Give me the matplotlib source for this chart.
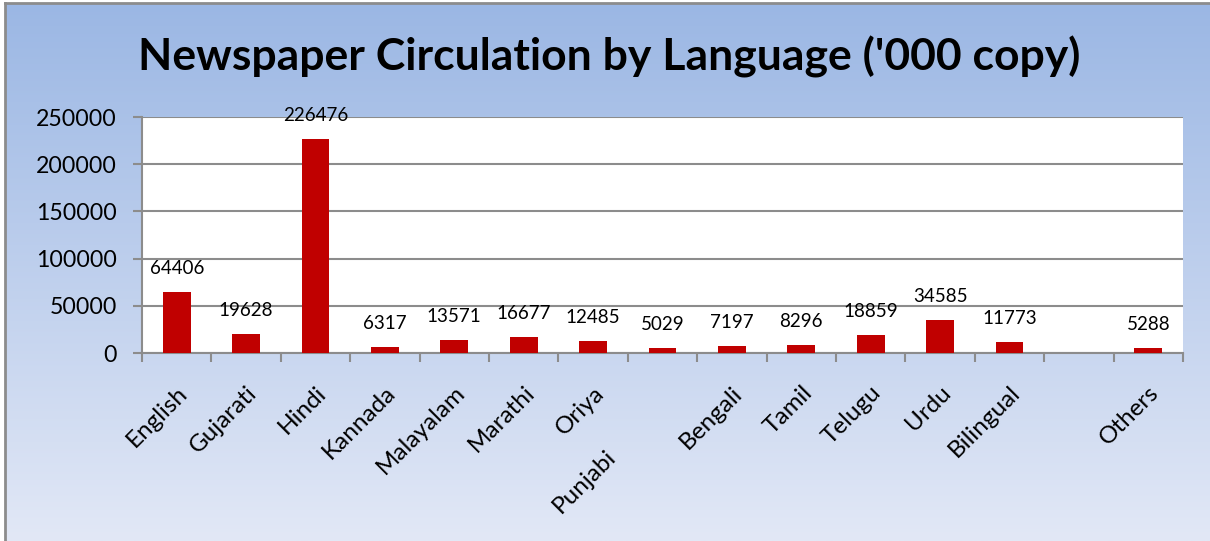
import matplotlib
matplotlib.use("Agg")
import matplotlib.pyplot as plt
import matplotlib.transforms as mtransforms
import numpy as np

# --- data ---
languages = ["English", "Gujarati", "Hindi", "Kannada", "Malayalam", "Marathi", "Oriya",
             "Punjabi", "Bengali", "Tamil", "Telugu", "Urdu", "Bilingual", "", "Others"]
circulation = [64406, 19628, 226476, 6317, 13571, 16677, 12485,
               5029, 7197, 8296, 18859, 34585, 11773, None, 5288]
yticks = [0, 50000, 100000, 150000, 200000, 250000]

plt.rcParams['font.family'] = ['Lato', 'DejaVu Sans']

fig = plt.figure(figsize=(12.10, 5.41), dpi=100)
fig.patch.set_facecolor('white')

# background gradient (Excel style chart area)
bg = fig.add_axes([5 / 1210, 0, 1 - 5 / 1210, 1 - 3 / 541], zorder=-10)
top_col = np.array([155, 183, 228]) / 255
bot_col = np.array([226, 232, 246]) / 255
t = np.linspace(0, 1, 256)[:, None]
grad = top_col * (1 - t) + bot_col * t
bg.imshow(grad[:, None, :].repeat(2, axis=1), aspect='auto', extent=[0, 1, 0, 1])
bg.set_axis_off()
# border at left/top
fig.add_artist(plt.Line2D([5 / 1210, 5 / 1210], [0, 1 - 3 / 541], color='#8c8c8c', lw=2))
fig.add_artist(plt.Line2D([5 / 1210, 1], [1 - 3 / 541, 1 - 3 / 541], color='#8c8c8c', lw=2))

ax = fig.add_axes([142 / 1210, 1 - 353 / 541, (1183 - 142) / 1210, (353 - 117) / 541])
ax.set_facecolor('white')

x = np.arange(len(languages))
vals = np.array([v if v is not None else 0 for v in circulation], dtype=float)
ax.bar(x, vals, width=0.4, color='#C00000', zorder=3)

for xi, v in zip(x, circulation):
    if v is None:
        continue
    ax.annotate(str(v), (xi, v), xytext=(0, 17), textcoords='offset points',
                ha='center', va='center', fontsize=13.5, color='black',
                annotation_clip=False, zorder=4)

ax.set_xlim(-0.5, len(languages) - 0.5)
ax.set_ylim(0, 250000)
ax.set_yticks(yticks)
ax.set_yticklabels([str(v) for v in yticks], fontsize=16.7)
ax.yaxis.grid(True, color='#8c8c8c', lw=1.5, zorder=0)
ax.set_axisbelow(True)

# category boundaries as ticks
ax.set_xticks(np.arange(len(languages) + 1) - 0.5)
ax.set_xticklabels([])
ax.set_xticks(x, minor=True)
ax.set_xticklabels(languages, minor=True, rotation=45, ha='right',
                   rotation_mode='anchor', fontsize=17.5)
ax.tick_params(axis='x', which='minor', length=0, pad=21)
ax.tick_params(axis='x', which='major', length=6.5, width=1.5, color='#8c8c8c', direction='out')
ax.tick_params(axis='y', length=6.5, width=1.5, color='#8c8c8c', direction='out', pad=11.5)

for side in ['top', 'right']:
    ax.spines[side].set_visible(False)
ax.spines['left'].set_color('#8c8c8c')
ax.spines['bottom'].set_color('#8c8c8c')
ax.spines['left'].set_linewidth(1.5)
ax.spines['bottom'].set_linewidth(1.5)

# Punjabi label is staggered lower, as in the original
for lab in ax.get_xticklabels(minor=True):
    if lab.get_text() == "Punjabi":
        off = mtransforms.ScaledTranslation(-0.57, -0.64, fig.dpi_scale_trans)
        lab.set_transform(lab.get_transform() + off)

fig.text(609 / 1210, 1 - 57 / 541, "Newspaper Circulation by Language ('000 copy)",
         ha='center', va='center', fontsize=32, fontweight='bold')

fig.savefig('out.png', dpi=100)
